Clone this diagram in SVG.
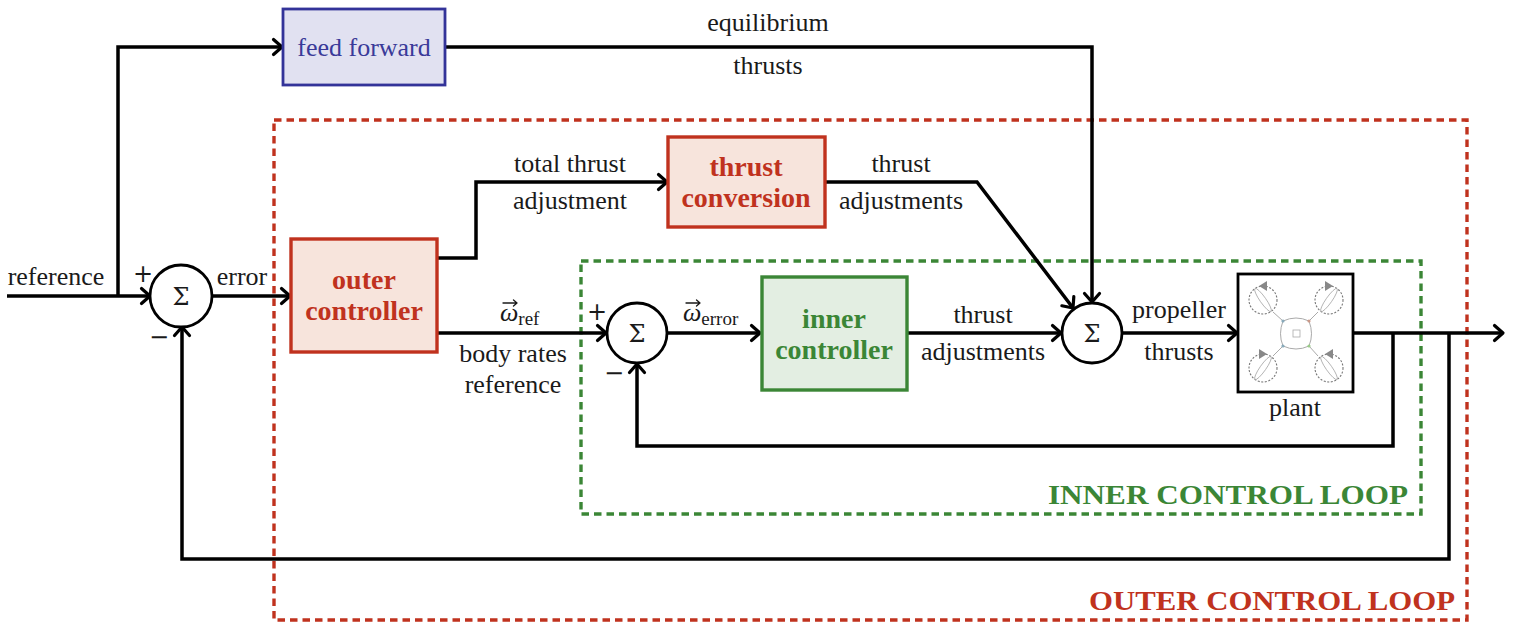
<svg xmlns="http://www.w3.org/2000/svg" width="1514" height="623" viewBox="0 0 1514 623">
<defs>
<marker id="arr" markerUnits="userSpaceOnUse" markerWidth="24" markerHeight="24" viewBox="-12 -12 24 24" refX="0" refY="0" orient="auto">
<path d="M-8.5,-7.5 L0,0 L-8.5,7.5" fill="none" stroke="#000" stroke-width="3.2" stroke-linecap="round" stroke-linejoin="round"/>
</marker>
</defs>
<style>
.t{font-family:"Liberation Serif","Times New Roman",serif;font-size:26px;fill:#1a1a1a;text-anchor:middle}
.s{font-family:"Liberation Serif","Times New Roman",serif;font-size:26px;fill:#1a1a1a;text-anchor:start}
.b{font-family:"Liberation Serif","Times New Roman",serif;font-size:28px;font-weight:bold;text-anchor:middle}
.cap{font-family:"Liberation Serif","Times New Roman",serif;font-size:28px;font-weight:bold;text-anchor:end}
.w{stroke:#000;stroke-width:3.5;fill:none;stroke-linejoin:miter}
.vec{stroke:#1a1a1a;stroke-width:1.3;fill:none;stroke-linecap:round;stroke-linejoin:round}
.sum{fill:#fff;stroke:#000;stroke-width:2.8}
.sig{font-family:"DejaVu Serif","Liberation Serif",serif;font-size:24px;fill:#1a1a1a;text-anchor:middle}
.pm{font-family:"DejaVu Sans","Liberation Sans",sans-serif;font-size:24px;fill:#1a1a1a;text-anchor:middle}
.ic{fill:none;stroke:#aaa;stroke-width:1}
.icd{fill:none;stroke:#777;stroke-width:1.1;stroke-dasharray:2 1.6}
</style>

<g id="outer-loop">
<rect x="274" y="120" width="1193" height="500" fill="none" stroke="#c0321e" stroke-width="3.4" stroke-dasharray="7.5 5"/>
<text class="cap" x="1455" y="610" fill="#c0321e" textLength="366" lengthAdjust="spacingAndGlyphs">OUTER CONTROL LOOP</text>
</g>
<g id="inner-loop">
<rect x="581" y="261" width="840" height="253" fill="none" stroke="#3b8636" stroke-width="3.4" stroke-dasharray="7.5 5"/>
<text class="cap" x="1408" y="504" fill="#3b8636" textLength="360" lengthAdjust="spacingAndGlyphs">INNER CONTROL LOOP</text>
</g>

<g id="connectors">
<path class="w" d="M7,296 H150" marker-end="url(#arr)"/>
<path class="w" d="M118,296 V47 H282" marker-end="url(#arr)"/>
<path class="w" d="M445,47 H1092 V302" marker-end="url(#arr)"/>
<path class="w" d="M212,296 H290" marker-end="url(#arr)"/>
<path class="w" d="M437,258 H476 V182 H667" marker-end="url(#arr)"/>
<path class="w" d="M825,182 H977 L1073,308" marker-end="url(#arr)"/>
<path class="w" d="M437,333 H606" marker-end="url(#arr)"/>
<path class="w" d="M668,333 H760" marker-end="url(#arr)"/>
<path class="w" d="M907,333 H1061" marker-end="url(#arr)"/>
<path class="w" d="M1122,333 H1237" marker-end="url(#arr)"/>
<path class="w" d="M1354,333 H1503" marker-end="url(#arr)"/>
<path class="w" d="M1393,333 V446 H637 V364" marker-end="url(#arr)"/>
<path class="w" d="M1449,333 V559 H182 V327" marker-end="url(#arr)"/>
<text class="t" x="56" y="285">reference</text>
<text class="t" x="242" y="285">error</text>
<text class="t" x="768" y="31">equilibrium</text>
<text class="t" x="768" y="74">thrusts</text>
<text class="t" x="570" y="172">total thrust</text>
<text class="t" x="570" y="209">adjustment</text>
<text class="t" x="901" y="172">thrust</text>
<text class="t" x="901" y="209">adjustments</text>
<text class="t" x="983" y="323">thrust</text>
<text class="t" x="983" y="360">adjustments</text>
<text class="t" x="1179" y="318">propeller</text>
<text class="t" x="1179" y="360">thrusts</text>
<text class="t" x="513" y="362">body rates</text>
<text class="t" x="513" y="393">reference</text>
<text class="s" x="500" y="321"><tspan font-style="italic">ω</tspan><tspan font-size="19" dy="4">ref</tspan></text>
<path class="vec" d="M503,303 H517 M513.5,300 L517,303 L513.5,306"/>
<text class="s" x="683" y="321"><tspan font-style="italic">ω</tspan><tspan font-size="19" dy="4">error</tspan></text>
<path class="vec" d="M686,303 H700 M696.5,300 L700,303 L696.5,306"/>
</g>

<g id="feed-forward">
<rect x="283" y="9" width="162" height="76" fill="#e1e1f1" stroke="#333399" stroke-width="2.8"/>
<text class="t" x="364" y="56" style="fill:#3a3a99">feed forward</text>
</g>

<g id="sum1">
<circle class="sum" cx="181" cy="296" r="31"/>
<text class="sig" x="181" y="305">Σ</text>
<text class="pm" x="143" y="282">+</text>
<text class="pm" x="159" y="345">−</text>
</g>

<g id="outer-controller">
<rect x="291" y="239" width="146" height="113" fill="#f7e4dc" stroke="#c0321e" stroke-width="3.4"/>
<text class="b" x="364" y="289" fill="#c0321e">outer</text>
<text class="b" x="364" y="320" fill="#c0321e">controller</text>
</g>

<g id="thrust-conversion">
<rect x="668" y="137" width="157" height="90" fill="#f7e4dc" stroke="#c0321e" stroke-width="3.4"/>
<text class="b" x="746" y="176" fill="#c0321e">thrust</text>
<text class="b" x="746" y="207" fill="#c0321e">conversion</text>
</g>

<g id="sum2">
<circle class="sum" cx="637" cy="333" r="30"/>
<text class="sig" x="637" y="342">Σ</text>
<text class="pm" x="597" y="320">+</text>
<text class="pm" x="614" y="381">−</text>
</g>

<g id="inner-controller">
<rect x="762" y="277" width="145" height="113" fill="#e3eee2" stroke="#3b8636" stroke-width="3.4"/>
<text class="b" x="834" y="328" fill="#3b8636">inner</text>
<text class="b" x="834" y="359" fill="#3b8636">controller</text>
</g>

<g id="sum3">
<circle class="sum" cx="1092" cy="333" r="30"/>
<text class="sig" x="1092" y="342">Σ</text>
</g>

<g id="plant">
<rect x="1238" y="274" width="115" height="118" fill="#fff" stroke="#000" stroke-width="2.8"/>
<g>
<path class="ic" d="M1273,312 L1283,321 Q1296,315 1309,321 L1318,312 M1273,356 L1283,346 Q1296,352 1309,346 L1318,356 M1283,321 Q1278,334 1283,346 M1309,321 Q1314,334 1309,346"/>
<rect x="1293" y="330" width="7" height="7" fill="none" stroke="#aaa" stroke-width="0.8"/>
<circle class="icd" cx="1263" cy="300" r="14"/>
<circle class="icd" cx="1329" cy="300" r="14"/>
<circle class="icd" cx="1263" cy="368" r="14"/>
<circle class="icd" cx="1329" cy="368" r="14"/>
<ellipse cx="1263" cy="300" rx="14" ry="3" transform="rotate(55 1263 300)" fill="none" stroke="#aaa" stroke-width="0.8"/>
<ellipse cx="1329" cy="300" rx="14" ry="3" transform="rotate(-55 1329 300)" fill="none" stroke="#aaa" stroke-width="0.8"/>
<ellipse cx="1263" cy="368" rx="14" ry="3" transform="rotate(-55 1263 368)" fill="none" stroke="#aaa" stroke-width="0.8"/>
<ellipse cx="1329" cy="368" rx="14" ry="3" transform="rotate(55 1329 368)" fill="none" stroke="#aaa" stroke-width="0.8"/>
<path d="M1259,286 L1267,281 L1267,291 Z" fill="#888"/>
<path d="M1333,286 L1325,281 L1325,291 Z" fill="#888"/>
<path d="M1267,354 L1259,349 L1259,359 Z" fill="#888"/>
<path d="M1325,354 L1333,349 L1333,359 Z" fill="#888"/>
<circle cx="1283" cy="321" r="1.6" fill="#8ab"/>
<circle cx="1309" cy="321" r="1.6" fill="#c98"/>
<circle cx="1283" cy="346" r="1.6" fill="#8ab"/>
<circle cx="1309" cy="346" r="1.6" fill="#9c8"/>
</g>
<text class="t" x="1295" y="416">plant</text>
</g>
</svg>
